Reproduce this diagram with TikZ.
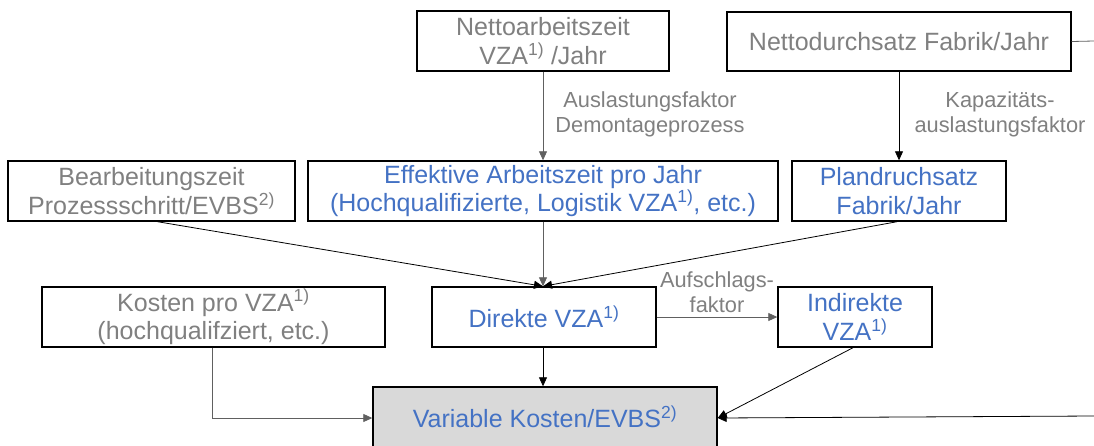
\documentclass[tikz,border=0pt]{standalone}
\usepackage{fontspec}
\setmainfont{Liberation Sans}
\usetikzlibrary{arrows.meta}
\definecolor{txtgray}{HTML}{808080}
\definecolor{txtblue}{HTML}{4472C4}
\definecolor{boxfill}{HTML}{D9D9D9}
\definecolor{linegray}{HTML}{606060}
\begin{document}
\begin{tikzpicture}[x=1pt,y=-1pt,
  box/.style={draw=black,line width=1.4pt,fill=white,align=center,inner sep=0pt,
    font=\fontsize{25}{28.5}\selectfont},
  given/.style={box,text=txtgray},
  derived/.style={box,text=txtblue},
  result/.style={box,text=txtblue,fill=boxfill},
  flow/.style={draw=black,line width=0.8pt,-{Triangle[length=9pt,width=8pt]}},
  grayflow/.style={flow,draw=linegray},
  factor/.style={text=txtgray,align=center,font=\fontsize{21.8}{25}\selectfont}]
\useasboundingbox (0,0) rectangle (1094,445);
\clip (0,0) rectangle (1094,445);

% inputs
\node[given,minimum width=252pt,minimum height=60pt] (nazeit) at (543,41)
  {Nettoarbeitszeit\\VZA\textsuperscript{1)} /Jahr};
\node[given,minimum width=344pt,minimum height=59pt] (ndurch) at (899,41.5)
  {Nettodurchsatz Fabrik/Jahr};
\node[given,minimum width=287pt,minimum height=60pt] (bzeit) at (151.5,191)
  {Bearbeitungszeit\\Prozessschritt/EVBS\textsuperscript{2)}};
\node[given,minimum width=343pt,minimum height=60pt] (kosten) at (213.5,317)
  {Kosten pro VZA\textsuperscript{1)}\\(hochqualifziert, etc.)};

% derived quantities
\node[derived,minimum width=470pt,minimum height=60pt] (eff) at (543,191)
  {Effektive Arbeitszeit pro Jahr\\(Hochqualifizierte, Logistik VZA\textsuperscript{1)}, etc.)};
\node[derived,minimum width=214pt,minimum height=60pt] (plan) at (899,191)
  {Plandruchsatz\\Fabrik/Jahr};
\node[derived,minimum width=224pt,minimum height=60pt] (direkt) at (544,317)
  {Direkte VZA\textsuperscript{1)}};
\node[derived,minimum width=154pt,minimum height=60pt] (indirekt) at (855,317)
  {Indirekte\\VZA\textsuperscript{1)}};
\node[result,minimum width=344pt,minimum height=60pt] (variabel) at (545,417)
  {Variable Kosten/EVBS\textsuperscript{2)}};

% free ends at the right border
\coordinate (outtop) at (1094,41);
\coordinate (outbot) at (1094,416);

% factor labels
\node[factor] (lausl) at (650,114.5) {Auslastungsfaktor\\Demontageprozess};
\node[factor] (lkap) at (1000,114.5) {Kapazitäts-\\auslastungsfaktor};
\node[factor] (lauf) at (717,292.5) {Aufschlags-\\faktor};

% connectors
\draw[grayflow] (nazeit.south) -- (eff.north);
\draw[flow] (ndurch.south) -- (plan.north);
\draw[flow] ([xshift=6pt]bzeit.south) -- ([xshift=-1pt]direkt.north);
\draw[grayflow] (eff.south) -- ([xshift=-1pt]direkt.north);
\draw[flow] ([xshift=-2pt]plan.south) -- ([xshift=-1pt]direkt.north);
\draw[grayflow] (direkt.east) -- (indirekt.west);
\draw[flow] ([xshift=-1pt]direkt.south) -- ([xshift=-1pt]direkt.south |- variabel.north);
\draw[grayflow] ([xshift=-1pt]kosten.south) |- ([yshift=-1pt]variabel.west);
\draw[flow] ([xshift=-2pt]indirekt.south) -- ([yshift=-1pt]variabel.east);
\draw[flow] (outbot) -- ([yshift=-1pt]variabel.east);
\draw[draw=linegray,line width=0.8pt] (ndurch.east) -- (outtop);
\end{tikzpicture}
\end{document}
